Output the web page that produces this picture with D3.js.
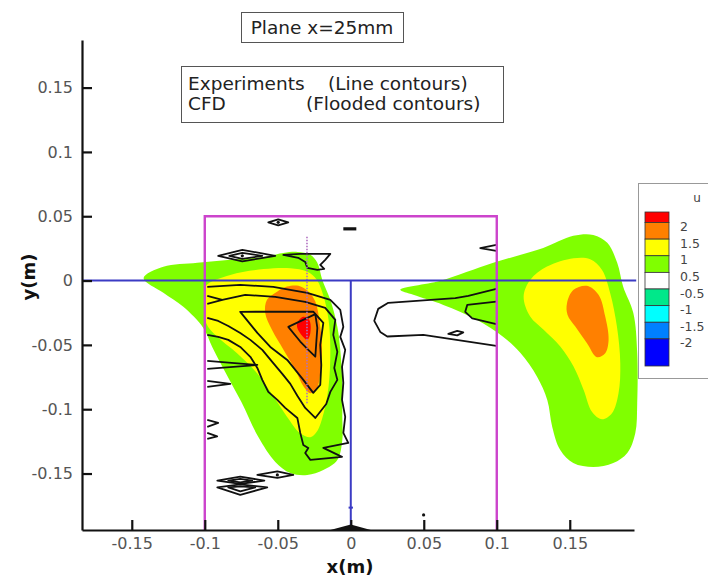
<!DOCTYPE html>
<html>
<head>
<meta charset="utf-8">
<script src="https://cdn.jsdelivr.net/npm/d3@7"></script>
<style>
  body { margin: 0; background: #fff; }
  svg { display: block; }
  text { font-family: "DejaVu Sans", Verdana, sans-serif; }
</style>
</head>
<body>
<svg id="chart" width="708" height="576"></svg>
<script>
// ---------- axis ticks ----------
const xMajorTicks = [-0.15, -0.1, -0.05, 0, 0.05, 0.1, 0.15];
const xTickLabels = ["-0.15", "-0.1", "-0.05", "0", "0.05", "0.1", "0.15"];
const yMajorTicks = [-0.15, -0.1, -0.05, 0, 0.05, 0.1, 0.15];
const yTickLabels = ["-0.15", "-0.1", "-0.05", "0", "0.05", "0.1", "0.15"];

// ---------- colour legend for u ----------
const levelColors = ["#ff0000", "#ff8000", "#ffff00", "#80ff00", "#ffffff", "#00e88a", "#00ffff", "#0080ff", "#0000ff"];
const levelLabels = ["2", "1.5", "1", "0.5", "-0.5", "-1", "-1.5", "-2"];

// ---------- CFD flooded contours (x, y in m) ----------
// left jet, u >= 0.5
const cfdLeftU05 = [
  [-0.1419, 0.0019], [-0.1284, 0.0107], [-0.1051, 0.0138], [-0.0825, 0.0161], [-0.0599, 0.0184],
  [-0.0462, 0.0215], [-0.0366, 0.0223], [-0.0277, 0.0200], [-0.0229, 0.0138], [-0.0195, 0.0005],
  [-0.0140, -0.0150], [-0.0092, -0.0360], [-0.0072, -0.0539], [-0.0058, -0.0796], [-0.0058, -0.1060],
  [-0.0058, -0.1239], [-0.0092, -0.1394], [-0.0188, -0.1472], [-0.0298, -0.1511], [-0.0414, -0.1496],
  [-0.0517, -0.1410], [-0.0634, -0.1215], [-0.0750, -0.0943], [-0.0860, -0.0710], [-0.0949, -0.0516],
  [-0.1010, -0.0368], [-0.1147, -0.0204], [-0.1284, -0.0095]
];
// left jet, u >= 1
const cfdLeftU10 = [
  [-0.0997, -0.0047], [-0.0825, 0.0044], [-0.0597, 0.0089], [-0.0414, 0.0096], [-0.0300, 0.0070],
  [-0.0232, 0.0005], [-0.0186, -0.0124], [-0.0152, -0.0306], [-0.0140, -0.0539], [-0.0152, -0.0824],
  [-0.0186, -0.1031], [-0.0232, -0.1174], [-0.0277, -0.1218], [-0.0346, -0.1187], [-0.0437, -0.1058],
  [-0.0529, -0.0902], [-0.0642, -0.0720], [-0.0779, -0.0565], [-0.0916, -0.0435], [-0.0990, -0.0331],
  [-0.0997, -0.0176]
];
// left jet, u >= 1.5
const cfdLeftU15 = [
  [-0.0505, -0.0086], [-0.0437, -0.0047], [-0.0358, -0.0041], [-0.0289, -0.0086], [-0.0243, -0.0163],
  [-0.0209, -0.0358], [-0.0197, -0.0539], [-0.0209, -0.0720], [-0.0232, -0.0837], [-0.0277, -0.0876],
  [-0.0323, -0.0824], [-0.0380, -0.0694], [-0.0460, -0.0539], [-0.0540, -0.0383], [-0.0586, -0.0253],
  [-0.0574, -0.0150]
];
// left jet, u >= 2
const cfdLeftU20 = [
  [-0.0366, -0.0329], [-0.0325, -0.0282], [-0.0284, -0.0306], [-0.0277, -0.0407], [-0.0298, -0.0461],
  [-0.0332, -0.0430], [-0.0366, -0.0368]
];
// right jet, u >= 0.5
const cfdRightU05 = [
  [0.0339, -0.0072], [0.0613, -0.0002], [0.0976, 0.0138], [0.1318, 0.0254], [0.1524, 0.0348],
  [0.1661, 0.0355], [0.1757, 0.0293], [0.1825, 0.0138], [0.1866, -0.0049], [0.1935, -0.0251],
  [0.1962, -0.0562], [0.1962, -0.0951], [0.1949, -0.1184], [0.1894, -0.1340], [0.1798, -0.1418],
  [0.1661, -0.1449], [0.1524, -0.1418], [0.1435, -0.1317], [0.1380, -0.1138], [0.1346, -0.0928],
  [0.1277, -0.0749], [0.1161, -0.0562], [0.1045, -0.0438], [0.0866, -0.0306], [0.0634, -0.0189],
  [0.0428, -0.0111]
];
// right jet, u >= 1
const cfdRightU10 = [
  [0.1184, -0.0124], [0.1229, 0.0005], [0.1344, 0.0109], [0.1526, 0.0174], [0.1640, 0.0166],
  [0.1721, 0.0083], [0.1777, -0.0098], [0.1823, -0.0358], [0.1846, -0.0642], [0.1834, -0.0876],
  [0.1789, -0.1031], [0.1721, -0.1078], [0.1652, -0.1019], [0.1595, -0.0850], [0.1526, -0.0669],
  [0.1435, -0.0513], [0.1321, -0.0383], [0.1229, -0.0280]
];
// right jet, u >= 1.5
const cfdRightU15 = [
  [0.1481, -0.0176], [0.1526, -0.0072], [0.1618, -0.0041], [0.1697, -0.0111], [0.1743, -0.0280],
  [0.1766, -0.0461], [0.1743, -0.0565], [0.1686, -0.0596], [0.1618, -0.0487], [0.1538, -0.0358],
  [0.1485, -0.0267]
];

// ---------- experimental line contours (x, y in m) ----------
const expOuter = [
  [-0.0983, -0.0049], [-0.0757, -0.0033], [-0.0531, -0.0049], [-0.0298, -0.0096], [-0.0140, -0.0150],
  [-0.0072, -0.0228], [-0.0051, -0.0360], [-0.0072, -0.0438], [-0.0038, -0.0539], [-0.0060, -0.0671],
  [-0.0051, -0.0795], [-0.0060, -0.0928], [-0.0038, -0.1060], [-0.0051, -0.1184], [-0.0017, -0.1262],
  [-0.0188, -0.1301], [-0.0060, -0.1371], [-0.0277, -0.1394], [-0.0312, -0.1340], [-0.0291, -0.1301],
  [-0.0325, -0.1278], [-0.0346, -0.1184], [-0.0366, -0.1068], [-0.0449, -0.0990], [-0.0503, -0.0928],
  [-0.0565, -0.0865], [-0.0606, -0.0772], [-0.0640, -0.0679], [-0.0688, -0.0593], [-0.0757, -0.0516],
  [-0.0839, -0.0461], [-0.0908, -0.0438], [-0.0983, -0.0422]
];
const expSecond = [
  [-0.0983, -0.0181], [-0.0880, -0.0150], [-0.0723, -0.0111], [-0.0517, -0.0127], [-0.0312, -0.0166],
  [-0.0175, -0.0212], [-0.0106, -0.0306], [-0.0120, -0.0422], [-0.0092, -0.0554], [-0.0113, -0.0679],
  [-0.0092, -0.0772], [-0.0140, -0.0865], [-0.0168, -0.0959], [-0.0243, -0.1068], [-0.0312, -0.0990],
  [-0.0366, -0.0896], [-0.0414, -0.0803], [-0.0469, -0.0725], [-0.0538, -0.0632], [-0.0606, -0.0539],
  [-0.0688, -0.0461], [-0.0757, -0.0407], [-0.0839, -0.0353], [-0.0908, -0.0314], [-0.0983, -0.0290]
];
const expThird = [
  [-0.0757, -0.0243], [-0.0257, -0.0241], [-0.0188, -0.0329], [-0.0209, -0.0500], [-0.0202, -0.0656],
  [-0.0209, -0.0811], [-0.0257, -0.0873], [-0.0325, -0.0772], [-0.0435, -0.0617], [-0.0551, -0.0516],
  [-0.0640, -0.0407]
];
const expCore = [
  [-0.0428, -0.0360], [-0.0243, -0.0261], [-0.0229, -0.0368], [-0.0243, -0.0591], [-0.0291, -0.0539],
  [-0.0346, -0.0474]
];
const expWedgeTop = [[-0.0983, -0.0119], [-0.0880, -0.0150]];
const expWedgeA = [[-0.0983, -0.0624], [-0.0640, -0.0656], [-0.0983, -0.0687]];
const expWedgeB = [[-0.0983, -0.0780], [-0.0825, -0.0803], [-0.0983, -0.0827]];
const expWedgeC = [[-0.0983, -0.1083], [-0.0908, -0.1107], [-0.0983, -0.1138]];
const expWedgeD = [[-0.0983, -0.1184], [-0.0915, -0.1211], [-0.0983, -0.1231]];
const expIslandTop = [[-0.0565, 0.0453], [-0.0497, 0.0476], [-0.0428, 0.0453], [-0.0497, 0.0429]];
const expDash = [[-0.0051, 0.0402], [0.0038, 0.0402]];
const expDiamondOuter = [[-0.0908, 0.0192], [-0.0743, 0.0239], [-0.0517, 0.0192], [-0.0743, 0.0149]];
const expDiamondInner = [[-0.0832, 0.0192], [-0.0743, 0.0215], [-0.0606, 0.0192], [-0.0743, 0.0169]];
const expHook = [
  [-0.0462, 0.0200], [-0.0346, 0.0208], [-0.0140, 0.0208], [-0.0175, 0.0161], [-0.0209, 0.0122],
  [-0.0182, 0.0091], [-0.0229, 0.0083], [-0.0298, 0.0099], [-0.0312, 0.0145], [-0.0360, 0.0177]
];
const expIslandLow = [[-0.0640, -0.1511], [-0.0503, -0.1484], [-0.0394, -0.1511], [-0.0503, -0.1534]];
const expLowA = [[-0.0914, -0.1555], [-0.0757, -0.1524], [-0.0592, -0.1555], [-0.0757, -0.1581]];
const expLowAInner = [[-0.0839, -0.1555], [-0.0757, -0.1542], [-0.0675, -0.1555], [-0.0757, -0.1569]];
const expLowB = [[-0.0914, -0.1607], [-0.0757, -0.1585], [-0.0572, -0.1607], [-0.0757, -0.1666]];
const expLowBInner = [[-0.0839, -0.1608], [-0.0757, -0.1600], [-0.0654, -0.1608], [-0.0757, -0.1639]];
const expRightWedge = [[0.0997, 0.0278], [0.0887, 0.0252], [0.0997, 0.0231]];
const expRightLoop = [
  [0.0997, -0.0065], [0.0805, -0.0119], [0.0716, -0.0137], [0.0257, -0.0173], [0.0188, -0.0220],
  [0.0161, -0.0313], [0.0202, -0.0399], [0.0250, -0.0435], [0.0497, -0.0422], [0.0997, -0.0508]
];
const expRightInner = [[0.0997, -0.0163], [0.0798, -0.0189], [0.0784, -0.0243], [0.0832, -0.0294], [0.0997, -0.0339]];
const expRightIsland = [[0.0668, -0.0414], [0.0729, -0.0391], [0.0771, -0.0403], [0.0729, -0.0426]];
const expDots = [[-0.0497, 0.0453], [-0.0743, 0.0192], [-0.0503, -0.1511], [0.0499, -0.1822]];

// probe traverse (dotted) and geometry outlines
const probeLine = [[-0.030, 0.034], [-0.030, -0.096]];
const domainBox = [[-0.1, -0.1939], [-0.1, 0.05], [0.1, 0.05], [0.1, -0.1939]];
const centreHorizontal = [[-0.1841, 0], [0.1955, 0]];
const centreVertical = [[0, 0], [0, -0.1939]];
const baseBump = [[-0.014, -0.1939], [0, -0.1896], [0.0137, -0.1939]];
const probeMark = [[-0.0015, -0.1765], [0.0015, -0.1765]];

// ---------- drawing ----------
const svg = d3.select("#chart");
svg.append("rect").attr("width", 708).attr("height", 576).attr("fill", "#fff");

const x = d3.scaleLinear().domain([-0.1841, 0.194]).range([82, 634]);
const y = d3.scaleLinear().domain([-0.1939, 0.187]).range([530, 40]);

const smooth = d3.line().x(d => x(d[0])).y(d => y(d[1])).curve(d3.curveCatmullRomClosed.alpha(0.5));
const straight = d3.line().x(d => x(d[0])).y(d => y(d[1]));

// flooded CFD contours
const floods = [
  [cfdLeftU05, levelColors[3]], [cfdLeftU10, levelColors[2]], [cfdLeftU15, levelColors[1]], [cfdLeftU20, levelColors[0]],
  [cfdRightU05, levelColors[3]], [cfdRightU10, levelColors[2]], [cfdRightU15, levelColors[1]]
];
const gFlood = svg.append("g");
floods.forEach(([pts, col]) => {
  gFlood.append("path").attr("d", smooth(pts)).attr("fill", col).attr("stroke", "none");
});

// experimental line contours
const openLines = [expOuter, expSecond, expWedgeTop, expWedgeA, expWedgeB, expWedgeC, expWedgeD,
  expRightWedge, expRightLoop, expRightInner];
const closedLines = [expThird, expCore, expIslandTop, expDiamondOuter, expDiamondInner, expHook,
  expIslandLow, expLowA, expLowAInner, expLowB, expLowBInner, expRightIsland];
const gExp = svg.append("g").attr("fill", "none").attr("stroke", "#111").attr("stroke-width", 1.8)
  .attr("stroke-linejoin", "round");
openLines.forEach(pts => gExp.append("path").attr("d", straight(pts)));
closedLines.forEach(pts => gExp.append("path").attr("d", straight(pts) + "Z"));
gExp.append("path").attr("d", straight(expDash)).attr("stroke-width", 3.2);
svg.append("g").selectAll("circle").data(expDots).join("circle")
  .attr("cx", d => x(d[0])).attr("cy", d => y(d[1])).attr("r", 1.6).attr("fill", "#111");

// dotted probe traverse
svg.append("path").attr("d", straight(probeLine)).attr("stroke", "#b070c0")
  .attr("stroke-width", 1.6).attr("stroke-dasharray", "1.5,1.5").attr("fill", "none");

// measurement domain outline
svg.append("path").attr("d", straight(domainBox)).attr("fill", "none")
  .attr("stroke", "#cc44cc").attr("stroke-width", 2.4);

// centre lines
svg.append("path").attr("d", straight(centreHorizontal)).attr("stroke", "#3b3bc4").attr("stroke-width", 2).attr("fill", "none");
svg.append("path").attr("d", straight(centreVertical)).attr("stroke", "#3b3bc4").attr("stroke-width", 2).attr("fill", "none");
svg.append("path").attr("d", straight(probeMark)).attr("stroke", "#3b3bc4").attr("stroke-width", 2).attr("fill", "none");

// axes
const xMinor = d3.range(-18, 20).map(i => i / 100);
const yMinor = d3.range(-19, 19).map(i => i / 100);

const gx = svg.append("g").attr("transform", "translate(0,530)");
gx.call(d3.axisBottom(x).tickValues(xMinor).tickSize(-5).tickSizeOuter(0).tickFormat(""));
gx.call(d3.axisBottom(x).tickValues(xMajorTicks).tickSize(-10).tickSizeOuter(0).tickPadding(8)
  .tickFormat((d, i) => xTickLabels[i]));
const gy = svg.append("g").attr("transform", "translate(82,0)");
gy.call(d3.axisLeft(y).tickValues(yMinor).tickSize(-5).tickSizeOuter(0).tickFormat(""));
gy.call(d3.axisLeft(y).tickValues(yMajorTicks).tickSize(-10).tickSizeOuter(0).tickPadding(9)
  .tickFormat((d, i) => yTickLabels[i]));
[gx, gy].forEach(g => {
  g.selectAll(".domain").attr("stroke", "#111").attr("stroke-width", 2.2);
  g.selectAll(".tick line").attr("stroke", "#111").attr("stroke-width", 1.4);
  g.selectAll(".tick text").attr("fill", "#555").attr("font-size", 16)
    .attr("font-family", "'DejaVu Sans', sans-serif");
});
gx.selectAll(".tick line").filter(d => xMajorTicks.includes(d)).attr("stroke-width", 2.2);
gy.selectAll(".tick line").filter(d => yMajorTicks.includes(d)).attr("stroke-width", 2.2);

svg.append("path").attr("d", straight(baseBump) + "Z").attr("fill", "#111");

// axis titles
svg.append("text").attr("x", 350).attr("y", 573).attr("text-anchor", "middle")
  .attr("font-size", 18).attr("font-weight", "bold").attr("fill", "#111").text("x(m)");
svg.append("text").attr("transform", "translate(35,277) rotate(-90)").attr("text-anchor", "middle")
  .attr("font-size", 18).attr("font-weight", "bold").attr("fill", "#111").text("y(m)");

// plane label
svg.append("rect").attr("x", 241.5).attr("y", 12.5).attr("width", 162).attr("height", 30)
  .attr("fill", "#fff").attr("stroke", "#555").attr("stroke-width", 1);
svg.append("text").attr("x", 322).attr("y", 34).attr("text-anchor", "middle")
  .attr("font-size", 18.5).attr("fill", "#222").text("Plane x=25mm");

// data source legend
svg.append("rect").attr("x", 181.5).attr("y", 66.5).attr("width", 322).attr("height", 56)
  .attr("fill", "#fff").attr("stroke", "#555").attr("stroke-width", 1);
const legendRows = [["Experiments", "(Line contours)", 328, 90], ["CFD", "(Flooded contours)", 306, 110]];
legendRows.forEach(([a, b, bx, by]) => {
  svg.append("text").attr("x", 188).attr("y", by).attr("font-size", 18.5).attr("fill", "#222").text(a);
  svg.append("text").attr("x", bx).attr("y", by).attr("font-size", 18.5).attr("fill", "#222").text(b);
});

// colour bar
const gBar = svg.append("g");
gBar.append("rect").attr("x", 638.5).attr("y", 183.5).attr("width", 90).attr("height", 195)
  .attr("fill", "#fff").attr("stroke", "#999").attr("stroke-width", 1);
gBar.append("text").attr("x", 697).attr("y", 202).attr("text-anchor", "middle")
  .attr("font-size", 12).attr("fill", "#444").text("u");
const bandY = d3.scaleLinear().domain([0, levelColors.length - 1]).range([222.5, 355.5]);
levelColors.forEach((c, i) => {
  const top = i === 0 ? 212 : bandY(i - 1);
  const bottom = i === levelColors.length - 1 ? 366 : bandY(i);
  gBar.append("rect").attr("x", 645).attr("y", top).attr("width", 24).attr("height", bottom - top)
    .attr("fill", c).attr("stroke", "#333").attr("stroke-width", 0.8);
});
levelLabels.forEach((t, i) => {
  gBar.append("text").attr("x", 680).attr("y", bandY(i) + 8.5).attr("font-size", 12.5)
    .attr("fill", "#444").text(t);
});
</script>
</body>
</html>
